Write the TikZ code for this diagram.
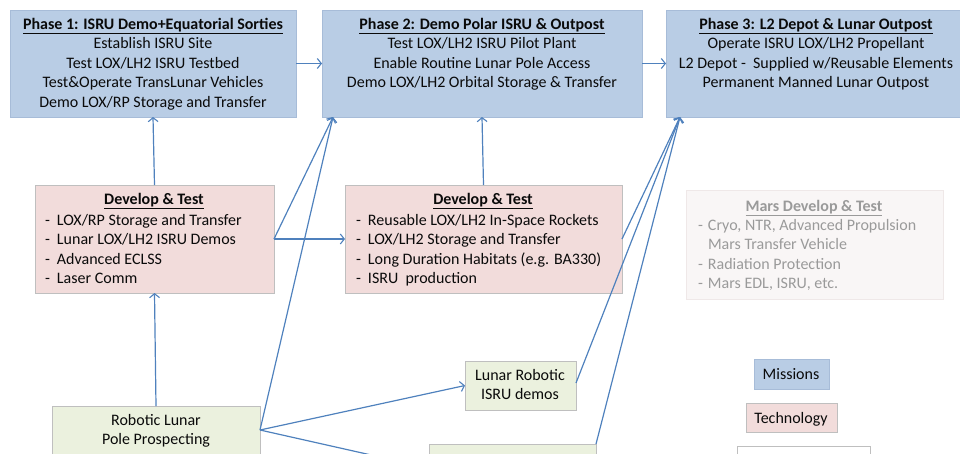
\documentclass[tikz,border=0pt]{standalone}
\usepackage{fontspec}
\setmainfont{Carlito}
\usetikzlibrary{arrows.meta}
\definecolor{mblue}{HTML}{B9CDE5}
\definecolor{mbluebd}{HTML}{A7BCD8}
\definecolor{tpink}{HTML}{F2DCDB}
\definecolor{rgreen}{HTML}{EBF1DE}
\definecolor{linec}{HTML}{4F81BD}
\definecolor{marsfill}{HTML}{F9F6F6}
\definecolor{marsbd}{HTML}{EFE8E8}
\definecolor{marstext}{HTML}{9A9A9A}
\definecolor{bord}{HTML}{BFBFBF}
\definecolor{txtc}{HTML}{0A0A0A}
\newcommand\litem[2][12pt]{\makebox[#1][l]{-}#2}
\begin{document}
\begin{tikzpicture}[x=1pt,y=-1pt,
  base box/.style={rectangle, inner sep=0pt, outer sep=0pt, anchor=north west, line width=0.7pt},
  missionbox/.style={base box, fill=mblue, draw=mbluebd},
  techbox/.style={base box, fill=tpink, draw=bord},
  robbox/.style={base box, fill=rgreen, draw=bord},
  marsbox/.style={base box, fill=marsfill, draw=marsbd},
  plainbox/.style={base box, fill=white, draw=bord},
  txt/.style={inner sep=0pt, outer sep=0pt, text=txtc, font=\fontsize{16}{19.5}\selectfont},
  ctxt/.style={txt, align=center, anchor=base},
  ltxt/.style={txt, align=left, anchor=base west},
  mtxt/.style={inner sep=0pt, outer sep=0pt, text=marstext, font=\fontsize{16}{19.5}\selectfont},
  conn/.style={draw=linec, line width=1.2pt, -{Straight Barb[length=4pt,width=10pt,line width=1.1pt]}}
]
\useasboundingbox (0,0) rectangle (960,453);
\clip (0,0) rectangle (960,453);

% boxes
\node[missionbox, minimum width=286pt, minimum height=107pt] (p1) at (10,10) {};
\node[missionbox, minimum width=320pt, minimum height=107pt] (p2) at (322,10) {};
\node[missionbox, minimum width=300pt, minimum height=107pt] (p3) at (666,10) {};
\node[techbox, minimum width=239pt, minimum height=108pt] (dt1) at (35,185) {};
\node[techbox, minimum width=277pt, minimum height=108pt] (dt2) at (345,185) {};
\node[marsbox, minimum width=257pt, minimum height=109pt] (mars) at (686,190) {};
\node[robbox, minimum width=208pt, minimum height=70pt] (rob) at (52,406) {};
\node[robbox, minimum width=111pt, minimum height=49pt] (lr) at (465,361) {};
\node[robbox, minimum width=167pt, minimum height=48pt] (bot) at (429,444) {};
\node[missionbox, minimum width=75pt, minimum height=30pt] (leg1) at (754,359) {};
\node[techbox, minimum width=91pt, minimum height=29pt] (leg2) at (746,403) {};
\node[plainbox, minimum width=133pt, minimum height=40pt] (leg3) at (737,446) {};

% texts (base anchor = baseline of the last line)
\node[ctxt] (p1t) at (153,107) {\textbf{\underline{Phase 1: ISRU Demo+Equatorial Sorties}}\\Establish ISRU Site\\Test LOX/LH2 ISRU Testbed\\Test\&Operate TransLunar Vehicles\\Demo LOX/RP Storage and Transfer};
\node[ctxt] (p2t) at (482,87.5) {\textbf{\underline{Phase 2: Demo Polar ISRU \& Outpost}}\\Test LOX/LH2 ISRU Pilot Plant\\Enable Routine Lunar Pole Access\\Demo LOX/LH2 Orbital Storage \& Transfer};
\node[ctxt] (p3t) at (816,87.5) {\textbf{\underline{Phase 3: L2 Depot \& Lunar Outpost}}\\Operate ISRU LOX/LH2 Propellant\\L2 Depot -\ \ Supplied w/Reusable Elements\\Permanent Manned Lunar Outpost};

\node[ctxt] (dt1h) at (154,204) {\textbf{\underline{Develop \& Test}}};
\node[ltxt] (dt1t) at (45,283.5) {\litem{LOX/RP Storage and Transfer}\\\litem{Lunar LOX/LH2 ISRU Demos}\\\litem{Advanced ECLSS}\\\litem{Laser Comm}};
\node[ctxt] (dt2h) at (483,204) {\textbf{\underline{Develop \& Test}}};
\node[ltxt] (dt2t) at (356,283.5) {\litem{Reusable LOX/LH2 In-Space Rockets}\\\litem{LOX/LH2 Storage and Transfer}\\\litem{Long Duration Habitats (e.g. BA330)}\\\litem{ISRU\ \ production}};

\node[mtxt, align=center, anchor=base] (marsh) at (814,211) {\textbf{\underline{Mars Develop \& Test}}};
\node[mtxt, align=left, anchor=base west] (marst) at (698,288.5) {\litem[10pt]{Cryo, NTR, Advanced Propulsion}\\\makebox[10pt]{}Mars Transfer Vehicle\\\litem[10pt]{Radiation Protection}\\\litem[10pt]{Mars EDL, ISRU, etc.}};

\node[ctxt] (robt) at (156,444.5) {Robotic Lunar\\Pole Prospecting};
\node[ctxt] (lrt) at (520,399.5) {Lunar Robotic\\ISRU demos};
\node[ctxt] (leg1t) at (791,379) {Missions};
\node[ctxt] (leg2t) at (791,423) {Technology};

% connectors
\coordinate (p2in) at ([xshift=11pt]p2.south west);
\coordinate (p3in) at ([xshift=14pt]p3.south west);
\coordinate (robout) at ([yshift=-24pt]rob.north east);

\draw[conn] (p1.east) -- (p2.west);
\draw[conn] (p2.east) -- (p3.west);
\draw[conn] (dt1.north) -- (p1.south);
\draw[conn] (dt2.north) -- (p2.south);
\draw[conn] (rob.north) -- (dt1.south);
\draw[conn] (dt1.east) -- (dt2.west);
\draw[conn] (dt1.east) -- (p2in);
\draw[conn] (robout) -- (p2in);
\draw[conn] (robout) -- (lr.west);
\draw[conn] (robout) -- (bot.west);
\draw[conn] (dt2.east) -- (p3in);
\draw[conn] ([yshift=-22pt]lr.north east) -- (p3in);
\draw[conn] (bot.north east) -- (p3in);
\end{tikzpicture}
\end{document}
